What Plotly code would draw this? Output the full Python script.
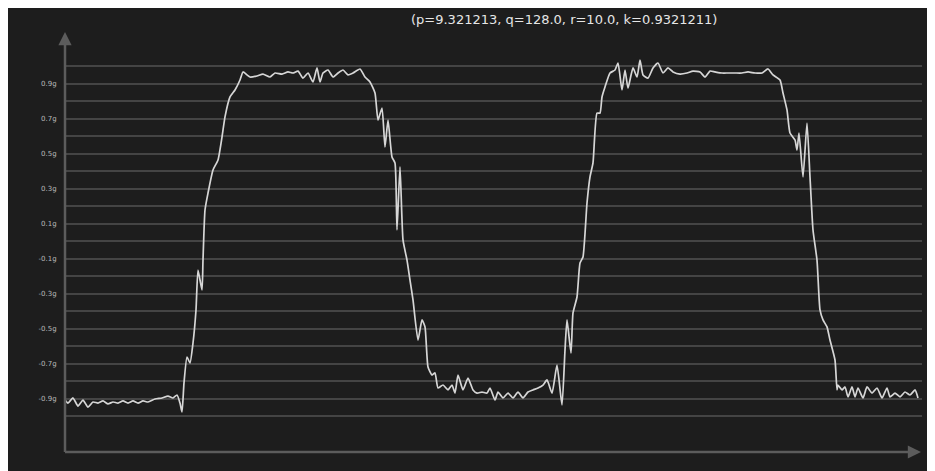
import plotly.graph_objects as go

# sample index (arbitrary time units) and acceleration in g
t = [0, 3, 8, 13, 18, 23, 28, 33, 38, 43, 48, 53, 58, 63, 68, 73, 78, 83, 90, 97,
     103, 108, 112, 115, 117, 119, 122, 125, 128, 131, 133, 137, 138, 140, 143, 148, 153, 157, 160, 165,
     170, 175, 178, 182, 185, 192, 198, 205, 210, 217, 223, 228, 233, 238, 243, 248, 252, 255, 258, 263,
     268, 273, 278, 283, 288, 295, 300, 305, 310, 313, 317, 320, 323, 327, 330, 332, 335, 338, 342, 345,
     348, 353, 357, 360, 363, 367, 370, 373, 378, 383, 387, 390, 393, 398, 403, 408, 412, 417, 422, 425,
     430, 433, 438, 443, 448, 453, 458, 463, 468, 473, 478, 482, 487, 492, 497, 500, 502, 506, 508, 512,
     515, 518, 522, 525, 528, 532, 535, 537, 540, 545, 550, 553, 557, 560, 563, 568, 572, 575, 578, 583,
     588, 593, 598, 603, 608, 615, 622, 628, 635, 640, 645, 650, 657, 663, 670, 677, 683, 690, 697, 703,
     708, 715, 718, 722, 725, 730, 732, 734, 738, 742, 745, 748, 752, 755, 758, 762, 765, 770, 772, 773,
     777, 780, 783, 787, 790, 793, 798, 802, 807, 812, 817, 822, 825, 830, 835, 840, 845, 850, 853]
accel = [-0.909, -0.926, -0.897, -0.943, -0.909, -0.949, -0.920, -0.926, -0.914, -0.931,
         -0.920, -0.926, -0.914, -0.926, -0.914, -0.926, -0.914, -0.920, -0.903, -0.897,
         -0.886, -0.897, -0.880, -0.926, -0.977, -0.811, -0.663, -0.697, -0.583, -0.394,
         -0.166, -0.280, -0.109, 0.177, 0.274, 0.406, 0.463, 0.594, 0.709, 0.823,
         0.863, 0.920, 0.966, 0.949, 0.937, 0.943, 0.954, 0.937, 0.960, 0.954,
         0.966, 0.960, 0.971, 0.931, 0.960, 0.909, 0.989, 0.909, 0.960, 0.977,
         0.937, 0.960, 0.977, 0.949, 0.960, 0.983, 0.937, 0.909, 0.846, 0.691,
         0.760, 0.537, 0.691, 0.480, 0.446, 0.063, 0.423, 0.006, -0.109, -0.223,
         -0.337, -0.566, -0.451, -0.491, -0.720, -0.766, -0.754, -0.840, -0.823, -0.851,
         -0.823, -0.869, -0.766, -0.851, -0.783, -0.851, -0.869, -0.863, -0.869, -0.840,
         -0.909, -0.863, -0.897, -0.869, -0.897, -0.863, -0.897, -0.863, -0.851, -0.840,
         -0.823, -0.794, -0.869, -0.709, -0.937, -0.623, -0.451, -0.640, -0.411, -0.320,
         -0.126, -0.091, 0.217, 0.366, 0.446, 0.731, 0.731, 0.823, 0.880, 0.960,
         0.977, 1.017, 0.863, 0.977, 0.874, 0.989, 0.937, 1.034, 0.949, 0.931,
         0.989, 1.017, 0.960, 0.989, 0.966, 0.954, 0.960, 0.971, 0.966, 0.937,
         0.971, 0.966, 0.960, 0.960, 0.960, 0.960, 0.966, 0.960, 0.960, 0.983,
         0.949, 0.920, 0.846, 0.749, 0.617, 0.577, 0.520, 0.617, 0.366, 0.674,
         0.366, 0.063, -0.109, -0.394, -0.451, -0.491, -0.566, -0.680, -0.851, -0.823,
         -0.851, -0.834, -0.891, -0.834, -0.891, -0.840, -0.897, -0.834, -0.869, -0.840,
         -0.897, -0.840, -0.891, -0.869, -0.891, -0.863, -0.880, -0.851, -0.897]

label_vals = [0.9, 0.7, 0.5, 0.3, 0.1, -0.1, -0.3, -0.5, -0.7, -0.9]
label_text = ["0.9g", "0.7g", "0.5g", "0.3g", "0.1g", "-0.1g", "-0.3g", "-0.5g", "-0.7g", "-0.9g"]
grid_vals = [round(-1.0 + 0.1 * i, 1) for i in range(21)]
title_text = "(p=9.321213, q=128.0, r=10.0, k=0.9321211)"

BG = "#1d1d1d"
GRID = "#444444"
AXIS = "#5c5c5c"

# page body has an 8px margin; figure is placed at (8, 8) on screen
W, H = 927, 463
L, R, T, B = 57, 13, 24, 19
pw, ph = W - L - R, H - T - B
ZERO_Y = 241 - 8 - T      # pixel row of 0 g inside plot area
PX_PER_G = 175.0

def px_x(p):
    return (p - 8 - L) / pw

def px_y(p):
    return (H - B - (p - 8)) / ph

fig = go.Figure()
fig.add_trace(go.Scatter(x=t, y=accel, mode="lines",
                         line=dict(color="#d6d6d6", width=1.7, shape="spline", smoothing=0.5),
                         hoverinfo="skip", showlegend=False))

fig.update_layout(
    width=W, height=H,
    margin=dict(l=L, r=R, t=T, b=B),
    paper_bgcolor=BG, plot_bgcolor=BG,
    showlegend=False,
    font=dict(family="DejaVu Sans", color="#bbbbbb"),
    xaxis=dict(range=[0, pw], showgrid=False, zeroline=False, showticklabels=False,
               showline=False, ticks=""),
    yaxis=dict(range=[-(ph - ZERO_Y) / PX_PER_G, ZERO_Y / PX_PER_G],
               tickmode="array", tickvals=label_vals, ticktext=label_text,
               tickfont=dict(size=7, color="#b8b8b8", family="DejaVu Sans"),
               ticks="outside", ticklen=6, tickcolor=BG,
               showgrid=True, gridcolor=GRID, gridwidth=2,
               minor=dict(tickmode="array", tickvals=grid_vals, showgrid=True,
                          gridcolor=GRID, gridwidth=2, ticks=""),
               zeroline=False, showline=False),
)

# axis lines
fig.add_shape(type="line", xref="paper", yref="paper", x0=0, x1=0, y0=0, y1=0.985,
              line=dict(color=AXIS, width=2.5))
fig.add_shape(type="line", xref="paper", yref="paper", x0=0, x1=0.995, y0=0, y1=0,
              line=dict(color=AXIS, width=2.5))
# arrowheads
fig.add_annotation(xref="paper", yref="paper", x=0, y=1.0, ax=0, ay=14, text="",
                   showarrow=True, arrowhead=2, arrowsize=1.2, arrowwidth=2.2, arrowcolor=AXIS)
fig.add_annotation(xref="paper", yref="paper", x=px_x(921), y=0, ax=-14, ay=0, text="",
                   showarrow=True, arrowhead=2, arrowsize=1.2, arrowwidth=2.2, arrowcolor=AXIS)

fig.add_annotation(xref="paper", yref="paper", x=px_x(564), y=px_y(19), text=title_text,
                   showarrow=False, font=dict(size=13, color="#e6e6e6", family="DejaVu Sans"),
                   xanchor="center", yanchor="middle")

fig.write_html("out.html")
